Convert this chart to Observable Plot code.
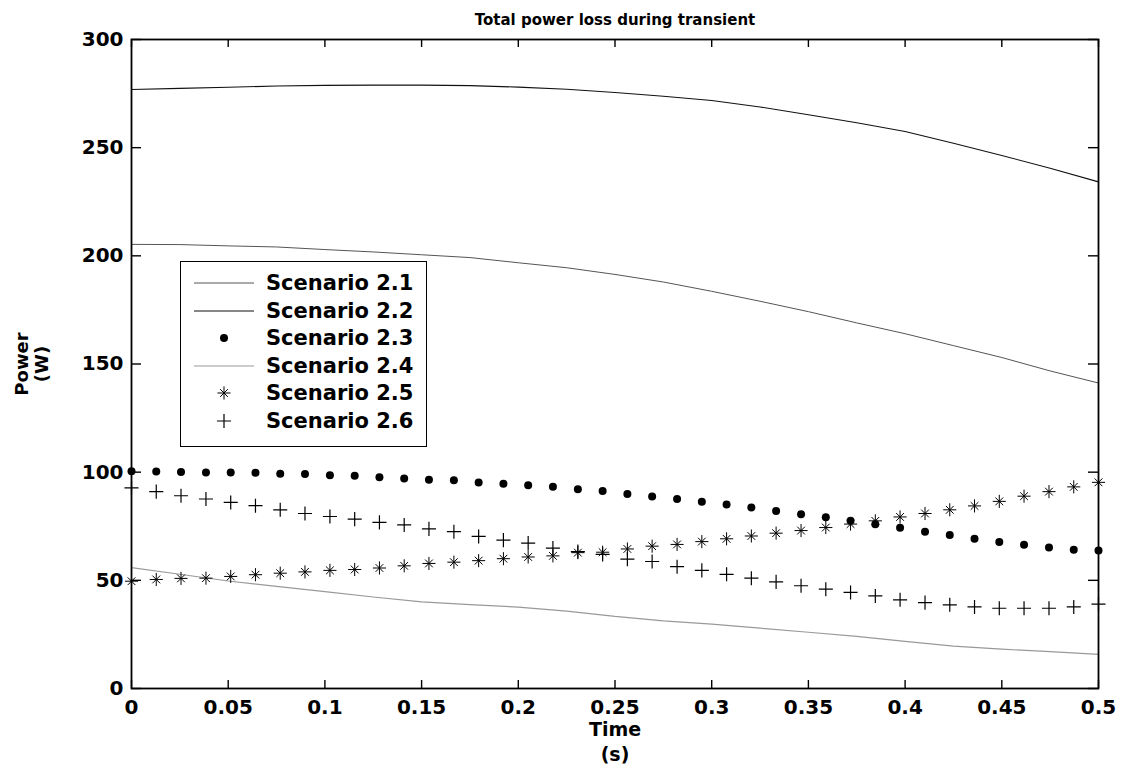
<!DOCTYPE html>
<html><head><meta charset="utf-8">
<script src="https://cdn.jsdelivr.net/npm/d3@7"></script>
<script src="https://cdn.jsdelivr.net/npm/@observablehq/plot@0.6"></script>
<style>
body{margin:0;background:#fff;}
#wrap{position:relative;width:1129px;height:775px;font-family:"DejaVu Sans",sans-serif;font-weight:bold;}
#legend{position:absolute;left:180px;top:261px;width:247px;height:186px;border:1.5px solid #000;background:#fff;box-sizing:border-box;}
.row{position:absolute;left:0;height:28px;width:245px;}
.row svg{position:absolute;left:0;top:0;}
.row span{position:absolute;left:85px;top:0;line-height:28px;font-size:21px;color:#000;white-space:nowrap;}
</style></head><body><div id="wrap"></div>
<script>
// ---- data ----
const chartTitle = "Total power loss during transient";
const xLabel = ["Time", "(s)"];
const yLabel = ["Power", "(W)"];
const scenarios = ["Scenario 2.1", "Scenario 2.2", "Scenario 2.3", "Scenario 2.4", "Scenario 2.5", "Scenario 2.6"];

const xTicks = [0, 0.05, 0.1, 0.15, 0.2, 0.25, 0.3, 0.35, 0.4, 0.45, 0.5];
const xTickLabels = ["0", "0.05", "0.1", "0.15", "0.2", "0.25", "0.3", "0.35", "0.4", "0.45", "0.5"];
const yTicks = [0, 50, 100, 150, 200, 250, 300];
const yTickLabels = ["0", "50", "100", "150", "200", "250", "300"];

// line series sample times (s)
const lineTime = [0, 0.025, 0.05, 0.075, 0.1, 0.125, 0.15, 0.175, 0.2, 0.225, 0.25,
  0.275, 0.3, 0.325, 0.35, 0.375, 0.4, 0.425, 0.45, 0.475, 0.5];
const s21 = [205.3, 205.2, 204.6, 204.1, 202.9, 201.8, 200.5, 199.2, 196.8, 194.5, 191.4,
  187.9, 183.6, 179.0, 174.2, 169.0, 164.0, 158.5, 153.0, 146.8, 141.2];
const s22 = [276.9, 277.4, 277.9, 278.5, 278.8, 278.9, 278.9, 278.7, 278.0, 277.0, 275.5,
  273.8, 271.8, 268.8, 265.2, 261.5, 257.5, 252.0, 246.4, 240.5, 234.2];
const s24 = [55.9, 52.8, 49.7, 47.2, 44.8, 42.3, 40.0, 38.8, 37.6, 35.8, 33.3,
  31.3, 29.8, 27.9, 26.0, 24.1, 21.8, 19.6, 18.2, 17.0, 15.8];

// marker series sample times (s)
const markerTime = [0, 0.0128, 0.0256, 0.0385, 0.0513, 0.0641, 0.0769, 0.0897, 0.1026, 0.1154,
  0.1282, 0.1410, 0.1538, 0.1667, 0.1795, 0.1923, 0.2051, 0.2179, 0.2308, 0.2436,
  0.2564, 0.2692, 0.2821, 0.2949, 0.3077, 0.3205, 0.3333, 0.3462, 0.3590, 0.3718,
  0.3846, 0.3974, 0.4103, 0.4231, 0.4359, 0.4487, 0.4615, 0.4744, 0.4872, 0.5];
const s23 = [100.4, 100.3, 100.1, 99.9, 99.8, 99.7, 99.3, 99.1, 98.6, 98.3,
  97.7, 97.1, 96.5, 96.3, 95.2, 94.6, 93.9, 93.3, 92.1, 91.3,
  89.9, 88.8, 87.6, 86.3, 85.0, 83.7, 82.1, 80.6, 79.2, 77.6,
  75.9, 74.3, 72.4, 70.9, 69.2, 67.7, 66.4, 65.2, 64.1, 63.8];
const s25 = [49.6, 50.4, 50.9, 51.0, 51.8, 52.6, 53.3, 53.9, 54.6, 55.0,
  55.7, 56.7, 57.8, 58.4, 59.1, 60.0, 60.8, 61.3, 62.8, 63.0,
  64.5, 65.8, 66.6, 67.9, 69.2, 70.5, 71.8, 73.0, 74.4, 76.0,
  77.5, 79.3, 80.9, 82.6, 84.4, 86.5, 88.9, 91.0, 93.2, 95.3];
const s26 = [92.7, 91.0, 89.1, 87.6, 86.0, 84.5, 82.6, 80.9, 79.5, 78.3,
  76.8, 75.6, 73.8, 72.5, 70.3, 68.6, 67.2, 64.9, 63.3, 62.0,
  59.8, 58.7, 56.3, 54.6, 52.8, 51.0, 49.3, 47.5, 45.9, 44.4,
  42.8, 41.0, 39.7, 38.7, 37.7, 37.1, 37.1, 37.1, 37.7, 39.0];

// ---- styles ----
const styles = {
  "Scenario 2.1": {type: "line", stroke: "#555", width: 1},
  "Scenario 2.2": {type: "line", stroke: "#111", width: 1.1},
  "Scenario 2.3": {type: "dot", r: 4},
  "Scenario 2.4": {type: "line", stroke: "#999", width: 1.2},
  "Scenario 2.5": {type: "star", rPlus: 4.3, rTimes: 3.6},
  "Scenario 2.6": {type: "plus", r: 4.6}
};

const toRows = (ts, vs) => ts.map((t, i) => ({t, v: vs[i]}));
const rows21 = toRows(lineTime, s21), rows22 = toRows(lineTime, s22), rows24 = toRows(lineTime, s24);
const rows23 = toRows(markerTime, s23), rows25 = toRows(markerTime, s25), rows26 = toRows(markerTime, s26);

// layout
const W = 1129, H = 775, mL = 131, mR = 31, mT = 39, mB = 87;
const frameW = W - mL - mR, frameH = H - mT - mB;
const xDomain = [0, 0.5], yDomain = [0, 300];
// tick lengths (px) expressed in data units
const xTickLenData = (yDomain[1] - yDomain[0]) * 8 / frameH;
const yTickLenData = (xDomain[1] - xDomain[0]) * 10 / frameW;
const tickStroke = {stroke: "#000", strokeWidth: 1.4};

const plot = Plot.plot({
  width: W, height: H,
  marginLeft: mL, marginRight: mR, marginTop: mT, marginBottom: mB,
  x: {domain: xDomain},
  y: {domain: yDomain},
  style: {fontFamily: "DejaVu Sans, sans-serif", fontWeight: "bold", fontSize: "20px", color: "#000", background: "#fff", overflow: "visible"},
  marks: [
    Plot.line(rows24, {x: "t", y: "v", stroke: styles["Scenario 2.4"].stroke, strokeWidth: styles["Scenario 2.4"].width}),
    Plot.line(rows21, {x: "t", y: "v", stroke: styles["Scenario 2.1"].stroke, strokeWidth: styles["Scenario 2.1"].width}),
    Plot.line(rows22, {x: "t", y: "v", stroke: styles["Scenario 2.2"].stroke, strokeWidth: styles["Scenario 2.2"].width}),
    Plot.dot(rows23, {x: "t", y: "v", r: styles["Scenario 2.3"].r, fill: "#000", stroke: "none"}),
    Plot.dot(rows25, {x: "t", y: "v", symbol: "plus", r: styles["Scenario 2.5"].rPlus, stroke: "#000", strokeWidth: 1}),
    Plot.dot(rows25, {x: "t", y: "v", symbol: "times", r: styles["Scenario 2.5"].rTimes, stroke: "#000", strokeWidth: 1}),
    Plot.dot(rows26, {x: "t", y: "v", symbol: "plus", r: styles["Scenario 2.6"].r, stroke: "#000", strokeWidth: 1.2}),
    // axes: labels only
    Plot.axisX({anchor: "bottom", ticks: xTicks, tickSize: 0, tickPadding: 11, tickFormat: (d, i) => xTickLabels[i], label: null, fontSize: 20}),
    Plot.axisY({anchor: "left", ticks: yTicks, tickSize: 0, tickPadding: 8, tickFormat: (d, i) => yTickLabels[i], label: null, fontSize: 20}),
    // inward ticks on all four sides
    Plot.ruleX(xTicks, {x: d => d, y1: yDomain[0], y2: yDomain[0] + xTickLenData, ...tickStroke}),
    Plot.ruleX(xTicks, {x: d => d, y1: yDomain[1] - xTickLenData, y2: yDomain[1], ...tickStroke}),
    Plot.ruleY(yTicks, {y: d => d, x1: xDomain[0], x2: xDomain[0] + yTickLenData, ...tickStroke}),
    Plot.ruleY(yTicks, {y: d => d, x1: xDomain[1] - yTickLenData, x2: xDomain[1], ...tickStroke}),
    Plot.frame({stroke: "#000", strokeWidth: 1.8}),
    // titles
    Plot.text([chartTitle], {text: d => d, frameAnchor: "top", dy: -25, fontSize: 15, fontWeight: "bold", fill: "#000"}),
    Plot.text([xLabel[0]], {text: d => d, frameAnchor: "bottom", dy: 47, fontSize: 19, fontWeight: "bold", fill: "#000"}),
    Plot.text([xLabel[1]], {text: d => d, frameAnchor: "bottom", dy: 72, fontSize: 19, fontWeight: "bold", fill: "#000"}),
    Plot.text([yLabel[0]], {text: d => d, frameAnchor: "left", textAnchor: "middle", dx: -109, rotate: -90, fontSize: 18, fontWeight: "bold", fill: "#000"}),
    Plot.text([yLabel[1]], {text: d => d, frameAnchor: "left", textAnchor: "middle", dx: -89, rotate: -90, fontSize: 18, fontWeight: "bold", fill: "#000"})
  ]
});

const wrap = document.getElementById("wrap");
wrap.appendChild(plot);

// ---- legend ----
const legend = document.createElement("div");
legend.id = "legend";
const ns = "http://www.w3.org/2000/svg";
function symPath(sym, r, sw) {
  const p = document.createElementNS(ns, "path");
  p.setAttribute("d", d3.symbol(sym, Math.PI * r * r)());
  p.setAttribute("transform", "translate(43,14)");
  p.setAttribute("fill", "none"); p.setAttribute("stroke", "#000"); p.setAttribute("stroke-width", sw);
  return p;
}
scenarios.forEach((name, k) => {
  const st = styles[name];
  const row = document.createElement("div");
  row.className = "row";
  row.style.top = (7 + k * 27.6) + "px";
  const svg = document.createElementNS(ns, "svg");
  svg.setAttribute("width", 80); svg.setAttribute("height", 28);
  if (st.type === "line") {
    const l = document.createElementNS(ns, "line");
    l.setAttribute("x1", 13); l.setAttribute("x2", 73); l.setAttribute("y1", 14); l.setAttribute("y2", 14);
    l.setAttribute("stroke", st.stroke); l.setAttribute("stroke-width", st.width);
    svg.appendChild(l);
  } else if (st.type === "dot") {
    const c = document.createElementNS(ns, "circle");
    c.setAttribute("cx", 43); c.setAttribute("cy", 14); c.setAttribute("r", st.r); c.setAttribute("fill", "#000");
    svg.appendChild(c);
  } else if (st.type === "star") {
    svg.appendChild(symPath(d3.symbolPlus, st.rPlus, 1));
    svg.appendChild(symPath(d3.symbolTimes, st.rTimes, 1));
  } else {
    svg.appendChild(symPath(d3.symbolPlus, st.r, 1.2));
  }
  row.appendChild(svg);
  const span = document.createElement("span");
  span.textContent = name;
  row.appendChild(span);
  legend.appendChild(row);
});
wrap.appendChild(legend);
</script></body></html>
